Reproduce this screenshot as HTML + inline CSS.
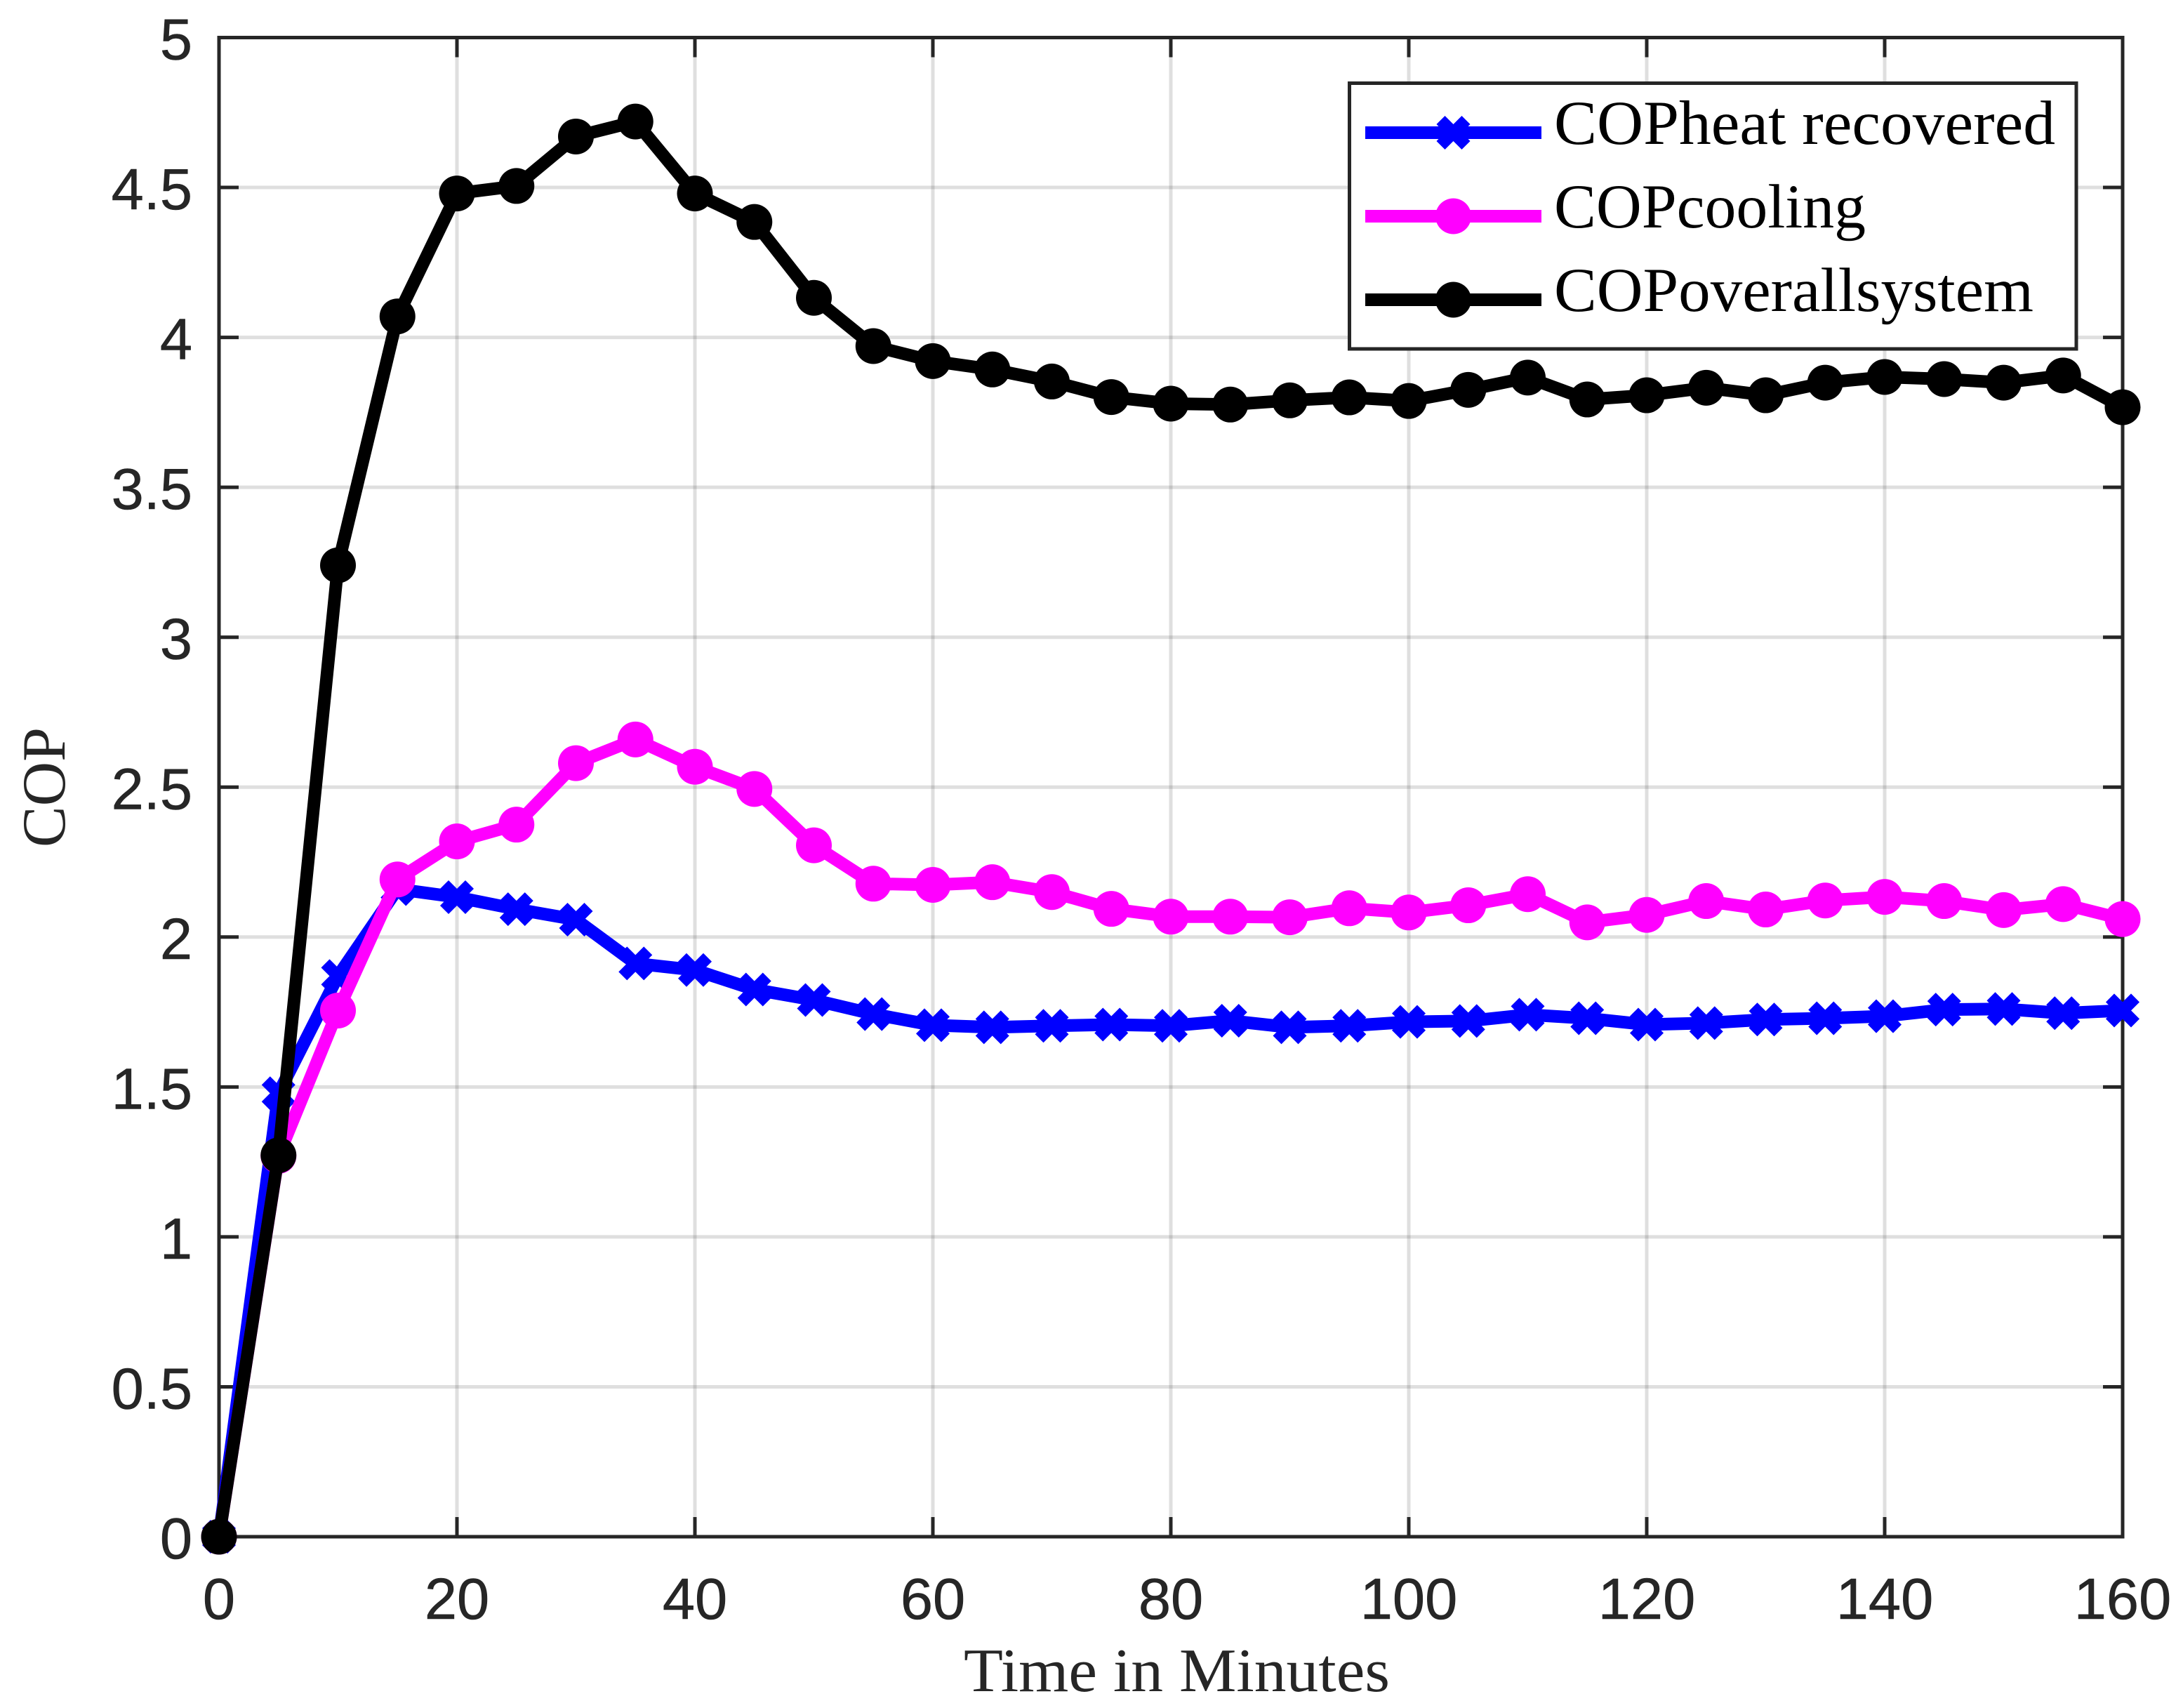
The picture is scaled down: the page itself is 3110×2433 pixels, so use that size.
<!DOCTYPE html>
<html lang="en">
<head>
<meta charset="utf-8">
<title>COP over time</title>
<style>
  html, body { margin: 0; padding: 0; background: #fff; }
  svg { display: block; }
  .tick-label { font-family: "Liberation Sans", Arial, sans-serif; font-size: 83px; fill: #262626; stroke: #262626; stroke-width: 0.6px; }
  .axis-title { font-family: "Liberation Serif", serif; font-size: 88px; fill: #262626; }
  .legend-label { font-family: "Liberation Serif", serif; font-size: 89px; fill: #000; }
</style>
</head>
<body>
<svg id="chart" xmlns="http://www.w3.org/2000/svg" width="3110" height="2433" viewBox="0 0 3110 2433">
  <rect x="0" y="0" width="3110" height="2433" fill="#ffffff"/>
  <g id="grid"></g>
  <g id="axes"></g>
  <g id="series"></g>
  <text class="axis-title" x="1373" y="2409" textLength="607" lengthAdjust="spacingAndGlyphs">Time in Minutes</text>
  <text class="axis-title" transform="translate(92 1207) rotate(-90)" x="0" y="0" textLength="171" lengthAdjust="spacingAndGlyphs">COP</text>
  <g id="legend">
    <rect x="1922.5" y="118.5" width="1035.5" height="378.5" fill="#ffffff" stroke="#262626" stroke-width="5"/>
    <text class="legend-label" x="2214" y="205" textLength="714" lengthAdjust="spacingAndGlyphs">COPheat recovered</text>
    <text class="legend-label" x="2214" y="324" textLength="444" lengthAdjust="spacingAndGlyphs">COPcooling</text>
    <text class="legend-label" x="2214" y="443" textLength="683" lengthAdjust="spacingAndGlyphs">COPoverallsystem</text>
  </g>
</svg>
<script>
const minutes = [0,5,10,15,20,25,30,35,40,45,50,55,60,65,70,75,80,85,90,95,100,105,110,115,120,125,130,135,140,145,150,155,160];
const copHeatRecovered = [0,1.479,1.87,2.16,2.133,2.093,2.058,1.912,1.89,1.825,1.79,1.743,1.706,1.699,1.704,1.708,1.704,1.721,1.699,1.704,1.717,1.72,1.741,1.729,1.708,1.713,1.725,1.729,1.736,1.758,1.76,1.746,1.755];
const copCooling = [0,1.27,1.755,2.192,2.319,2.375,2.58,2.659,2.568,2.494,2.306,2.178,2.174,2.183,2.15,2.094,2.068,2.068,2.066,2.096,2.082,2.106,2.143,2.049,2.074,2.12,2.092,2.122,2.134,2.12,2.09,2.11,2.06];
const copOverallSystem = [0,1.272,3.24,4.07,4.48,4.505,4.67,4.72,4.48,4.385,4.132,3.971,3.921,3.893,3.853,3.801,3.779,3.776,3.79,3.80,3.788,3.825,3.866,3.793,3.807,3.832,3.807,3.849,3.868,3.861,3.849,3.873,3.767];
const xTickValues = [0,20,40,60,80,100,120,140,160];
const xTickLabels = ['0','20','40','60','80','100','120','140','160'];
const yTickValues = [0,0.5,1,1.5,2,2.5,3,3.5,4,4.5,5];
const yTickLabels = ['0','0.5','1','1.5','2','2.5','3','3.5','4','4.5','5'];

const NS = 'http://www.w3.org/2000/svg';
const plotLeft = 312, plotRight = 3024, plotTop = 53.5, plotBottom = 2189;
const xMin = 0, xMax = 160, yMin = 0, yMax = 5;
const axisColor = '#262626';

function xScale(v) { return plotLeft + (v - xMin) / (xMax - xMin) * (plotRight - plotLeft); }
function yScale(v) { return plotBottom - (v - yMin) / (yMax - yMin) * (plotBottom - plotTop); }

function make(tag, parent, attrs) {
  const el = document.createElementNS(NS, tag);
  for (const k in attrs) el.setAttribute(k, attrs[k]);
  parent.appendChild(el);
  return el;
}

const gridGroup = document.getElementById('grid');
const axesGroup = document.getElementById('axes');
const seriesGroup = document.getElementById('series');
const legendGroup = document.getElementById('legend');

/* grid */
xTickValues.forEach(function (t) {
  if (t === xMin || t === xMax) return;
  const el = make('line', gridGroup, { x1: xScale(t), x2: xScale(t), y1: plotTop, y2: plotBottom, stroke: axisColor, 'stroke-opacity': 0.15, 'stroke-width': 5 });
  
  
});
yTickValues.forEach(function (v) {
  if (v === yMin || v === yMax) return;
  const el = make('line', gridGroup, { x1: plotLeft, x2: plotRight, y1: yScale(v), y2: yScale(v), stroke: axisColor, 'stroke-opacity': 0.15, 'stroke-width': 5 });
  
  
});

/* axis box */
const box = make('rect', axesGroup, { x: plotLeft, y: plotTop, width: plotRight - plotLeft, height: plotBottom - plotTop, fill: 'none', stroke: axisColor, 'stroke-width': 5 });



/* ticks and labels */
const tickLen = 28;
xTickValues.forEach(function (t, i) {
  const x = xScale(t);
  const bottomTick = make('line', axesGroup, { x1: x, x2: x, y1: plotBottom, y2: plotBottom - tickLen, stroke: axisColor, 'stroke-width': 5 });
  
  
  const topTick = make('line', axesGroup, { x1: x, x2: x, y1: plotTop, y2: plotTop + tickLen, stroke: axisColor, 'stroke-width': 5 });
  
  
  const label = make('text', axesGroup, { class: 'tick-label', x: x, y: 2306, 'text-anchor': 'middle' });
  label.textContent = xTickLabels[i];
  
  
});
yTickValues.forEach(function (v, i) {
  const y = yScale(v);
  const leftTick = make('line', axesGroup, { x1: plotLeft, x2: plotLeft + tickLen, y1: y, y2: y, stroke: axisColor, 'stroke-width': 5 });
  
  
  const rightTick = make('line', axesGroup, { x1: plotRight, x2: plotRight - tickLen, y1: y, y2: y, stroke: axisColor, 'stroke-width': 5 });
  
  
  const label = make('text', axesGroup, { class: 'tick-label', x: 274, y: y + 31, 'text-anchor': 'end' });
  label.textContent = yTickLabels[i];
  
  
});

/* markers */
function drawCross(parent, cx, cy, color) {
  const d = 'M' + (cx - 18) + ' ' + (cy - 18) + 'L' + (cx + 18) + ' ' + (cy + 18) + 'M' + (cx - 18) + ' ' + (cy + 18) + 'L' + (cx + 18) + ' ' + (cy - 18);
  const el = make('path', parent, { d: d, stroke: color, 'stroke-width': 17, fill: 'none' });
  
  
}
function drawDot(parent, cx, cy, color) {
  const el = make('circle', parent, { cx: cx, cy: cy, r: 25.5, fill: color });
  
  
}

/* series */
function drawSeries(values, color, marker) {
  const g = make('g', seriesGroup, {});
  const pts = values.map(function (v, i) { return xScale(minutes[i]) + ',' + yScale(v); }).join(' ');
  const line = make('polyline', g, { points: pts, fill: 'none', stroke: color, 'stroke-width': 18, 'stroke-linejoin': 'miter', 'stroke-miterlimit': 4 });
  
  
  values.forEach(function (v, i) {
    marker(g, xScale(minutes[i]), yScale(v), color);
  });
  return g;
}
const seriesHeat = drawSeries(copHeatRecovered, '#0000ff', drawCross);


const seriesCooling = drawSeries(copCooling, '#ff00ff', drawDot);


const seriesOverall = drawSeries(copOverallSystem, '#000000', drawDot);



/* legend samples */
function drawLegendSample(cy, color, marker) {
  const el = make('line', legendGroup, { x1: 1945, x2: 2196, y1: cy, y2: cy, stroke: color, 'stroke-width': 18 });
  
  
  marker(legendGroup, 2070.5, cy, color);
}
drawLegendSample(189, '#0000ff', drawCross);
drawLegendSample(308, '#ff00ff', drawDot);
drawLegendSample(427, '#000000', drawDot);
</script>
</body>
</html>
